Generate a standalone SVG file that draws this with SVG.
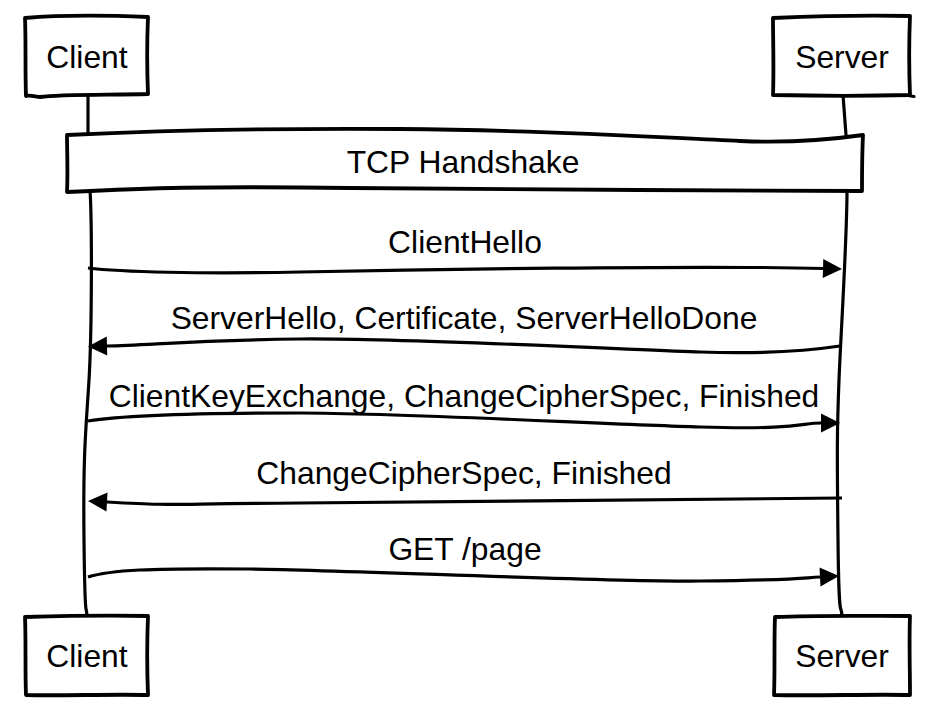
<svg xmlns="http://www.w3.org/2000/svg" width="934" height="722" viewBox="0 0 934 722">
  <style>
    .box { fill: #ffffff; stroke: #000000; stroke-width: 3.8; stroke-linejoin: round; stroke-linecap: round; }
    .line { fill: none; stroke: #000000; stroke-width: 3.2; stroke-linecap: round; }
    .msg { fill: none; stroke: #000000; stroke-width: 3.2; stroke-linecap: butt; marker-end: url(#head); }
    .lbl { font-family: "Liberation Sans", Arial, Helvetica, sans-serif; font-size: 31.8px; fill: #000000; text-anchor: middle; }
  </style>
  <defs>
    <marker id="head" markerUnits="userSpaceOnUse" markerWidth="20" markerHeight="20" refX="0" refY="9.5" orient="auto" overflow="visible">
      <path d="M0,0 L19,9.5 L0,19 Z" fill="#000000"/>
    </marker>
  </defs>

  <g id="connectors">
    <!-- lifelines -->
    <path class="line" d="M88,95 L88,135"/>
    <path class="line" d="M843,95 L846,135"/>
    <path class="line" d="M90,190 C92,220 92,330 89,380 S 83,450 84,540 S 86,600 87,616"/>
    <path class="line" d="M847,190 C847,240 841,330 839,380 S 837,450 838,540 S 841,600 842,616"/>
    <!-- messages -->
    <path class="msg" d="M88,268 C120,272 200,274 300,272 S 700,265 823,268.5"/>
    <path class="msg" d="M840,346 C800,352 760,354 700,352 S 400,338 300,339 S 150,345 107,346"/>
    <path class="msg" d="M88,421 C120,416 200,413 300,413 S 600,424 700,427 S 800,423 821,423"/>
    <path class="msg" d="M842,498 C700,499 450,502 300,503 S 180,506 107,502"/>
    <path class="msg" d="M88,577 C110,570 150,568 250,569 S 600,582 700,581 S 800,578 820,577"/>
  </g>

  <g id="tcp-handshake">
    <path class="box" d="M67,135 C150,131 250,128 400,129 S 650,137 740,141 C790,143 835,139 863,135 C862,155 862,175 862,191 C700,190 500,190 350,188 S 150,188 67,192 C68,170 67,150 67,135 Z"/>
    <text class="lbl" x="463" y="173">TCP Handshake</text>
  </g>

  <g id="msg-labels">
    <text class="lbl" x="465" y="253">ClientHello</text>
    <text class="lbl" x="464" y="329">ServerHello, Certificate, ServerHelloDone</text>
    <text class="lbl" x="464" y="407">ClientKeyExchange, ChangeCipherSpec, Finished</text>
    <text class="lbl" x="464" y="484">ChangeCipherSpec, Finished</text>
    <text class="lbl" x="465" y="560">GET /page</text>
  </g>

  <g id="client-top">
    <path class="box" d="M25,18 C60,15 100,15 148,17 C147,40 147,70 148,94 C110,95 60,94 40,97 C33,96 28,95 26,96 C25,70 26,40 25,18 Z"/>
    <text class="lbl" x="87" y="68">Client</text>
  </g>

  <g id="server-top">
    <path class="box" d="M773,18 C820,16 870,15 910,16 C909,40 909,70 910,95 C870,96 820,96 773,95 C774,70 773,40 773,18 Z"/>
    <path class="line" d="M908,95.5 L914,96.5"/>
    <text class="lbl" x="842" y="68">Server</text>
  </g>

  <g id="client-bottom">
    <path class="box" d="M25,617 C60,616 100,615 148,616 C147,640 147,670 148,695 C110,694 60,696 26,695 C25,670 26,640 25,617 Z"/>
    <text class="lbl" x="87" y="667">Client</text>
  </g>

  <g id="server-bottom">
    <path class="box" d="M775,617 C820,615 870,616 910,616 C909,640 910,670 910,695 C870,694 820,696 774,695 C775,670 774,640 775,617 Z"/>
    <text class="lbl" x="842" y="667">Server</text>
  </g>
</svg>
